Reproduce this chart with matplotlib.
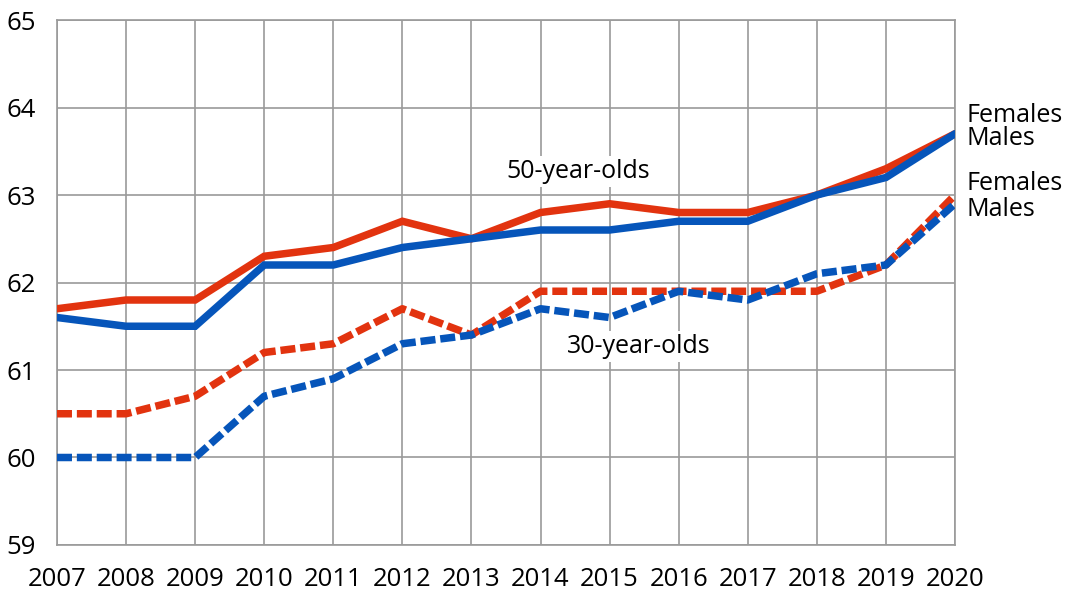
import matplotlib
matplotlib.use("Agg")
import matplotlib.pyplot as plt

plt.rcParams['font.family'] = ['Open Sans', 'DejaVu Sans']

years = list(range(2007, 2021))
females_50 = [61.7, 61.8, 61.8, 62.3, 62.4, 62.7, 62.5, 62.8, 62.9, 62.8, 62.8, 63.0, 63.3, 63.7]
males_50 = [61.6, 61.5, 61.5, 62.2, 62.2, 62.4, 62.5, 62.6, 62.6, 62.7, 62.7, 63.0, 63.2, 63.7]
females_30 = [60.5, 60.5, 60.7, 61.2, 61.3, 61.7, 61.4, 61.9, 61.9, 61.9, 61.9, 61.9, 62.2, 63.0]
males_30 = [60.0, 60.0, 60.0, 60.7, 60.9, 61.3, 61.4, 61.7, 61.6, 61.9, 61.8, 62.1, 62.2, 62.9]
y_ticks = [59, 60, 61, 62, 63, 64, 65]

RED = '#E2330F'
BLUE = '#0655BA'
GRID = '#9A9A9A'

fig = plt.figure(figsize=(10.65, 5.92), dpi=100)
ax = fig.add_axes([0.0535, 0.0794, 0.8432, 0.8868])

lw = 5.4
dash = (0, (2.0, 0.65))
ax.plot(years, females_30, color=RED, lw=lw, linestyle=dash, dash_capstyle='butt', zorder=3)
ax.plot(years, males_30, color=BLUE, lw=lw, linestyle=dash, dash_capstyle='butt', zorder=4)
ax.plot(years, females_50, color=RED, lw=lw, solid_capstyle='round', solid_joinstyle='miter', zorder=5)
ax.plot(years, males_50, color=BLUE, lw=lw, solid_capstyle='round', solid_joinstyle='miter', zorder=6)

ax.set_xlim(2007, 2020)
ax.set_ylim(59, 65)
ax.set_xticks(years)
ax.set_yticks(y_ticks)
ax.grid(True, color=GRID, lw=1.2, zorder=0)
ax.set_axisbelow(True)
for s in ax.spines.values():
    s.set_color(GRID)
    s.set_linewidth(1.2)
ax.tick_params(axis='both', length=0, labelsize=18.5, colors='black')
ax.tick_params(axis='x', pad=16)
ax.tick_params(axis='y', pad=15)

box = dict(facecolor='white', edgecolor='none', pad=2)
ax.text(2014.55, 63.27, '50-year-olds', fontsize=18, ha='center', va='center', bbox=box, zorder=2)
ax.text(2015.42, 61.27, '30-year-olds', fontsize=18, ha='center', va='center', bbox=box, zorder=2)

for label, yv in [('Females', 63.91), ('Males', 63.65), ('Females', 63.13), ('Males', 62.84)]:
    ax.text(2020.16, yv, label, fontsize=18, ha='left', va='center', clip_on=False)

fig.savefig('out.png', dpi=100)
